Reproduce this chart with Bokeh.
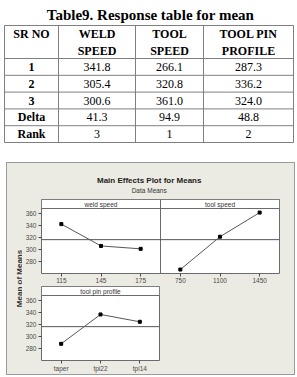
import numpy as np
from bokeh.plotting import figure
from bokeh.layouts import column, row, Spacer
from bokeh.models import Range1d, FactorRange, FixedTicker, Span
from bokeh.core.properties import value
from bokeh.embed import file_html
from bokeh.resources import INLINE

# ---------------- data ----------------
table_title = "Table9. Response table for mean"
header_line1 = ["SR NO", "WELD", "TOOL", "TOOL PIN"]
header_line2 = ["", "SPEED", "SPEED", "PROFILE"]
row_labels = ["1", "2", "3", "Delta", "Rank"]
weld_speed_means = [341.8, 305.4, 300.6]
tool_speed_means = [266.1, 320.8, 361.0]
pin_profile_means = [287.3, 336.2, 324.0]
delta_values = [41.3, 94.9, 48.8]
rank_values = [3, 1, 2]

weld_speed_levels = ["115", "145", "175"]
tool_speed_levels = ["750", "1100", "1450"]
pin_profile_levels = ["taper", "tpi22", "tpi14"]
panel_titles = ["weld speed", "tool speed", "tool pin profile"]
y_ticks = [280, 300, 320, 340, 360]
chart_title = "Main Effects Plot for Means"
chart_subtitle = "Data Means"
y_label = "Mean of Means"

# ---------------- styles ----------------
BG = "#ECEBE3"
FRAME_LINE = "#6b6b6b"
TICK_COL = "#4a4a4a"
SERIF = value("Liberation Serif")
SANS = value("Liberation Sans")

# ---------------- table ----------------
col_edges = [4, 58, 135, 203, 293]
row_edges = [25, 58, 74.8, 91.6, 108.4, 125.2, 142]

tbl = figure(width=297, height=160, x_range=Range1d(0, 297), y_range=Range1d(160, 0),
             min_border=0, toolbar_location=None, output_backend="svg",
             x_axis_type=None, y_axis_type=None)
tbl.outline_line_color = None
tbl.grid.visible = False
tbl.border_fill_color = "white"

tbl.text(x=[150], y=[14], text=[table_title], text_font=SERIF, text_font_style="bold",
         text_font_size="15px", text_align="center", text_baseline="middle", text_color="black")

hx0, hx1, hy = [], [], []
for r in row_edges:
    hx0.append(col_edges[0]); hx1.append(col_edges[-1]); hy.append(r)
tbl.segment(x0=hx0, y0=hy, x1=hx1, y1=hy, line_color="#808080", line_width=1)
tbl.segment(x0=col_edges, y0=[row_edges[0]] * len(col_edges), x1=col_edges,
            y1=[row_edges[-1]] * len(col_edges), line_color="#808080", line_width=1)

col_centers = [(a + b) / 2 for a, b in zip(col_edges[:-1], col_edges[1:])]
row_centers = [(a + b) / 2 for a, b in zip(row_edges[1:-1], row_edges[2:])]

# headers
tbl.text(x=col_centers, y=[33] * 4, text=header_line1, text_font=SERIF, text_font_style="bold",
         text_font_size="12px", text_align="center", text_baseline="middle", text_color="black")
tbl.text(x=col_centers, y=[50] * 4, text=header_line2, text_font=SERIF, text_font_style="bold",
         text_font_size="12px", text_align="center", text_baseline="middle", text_color="black")

# body
cells = []
for i in range(3):
    cells.append([f"{weld_speed_means[i]:.1f}", f"{tool_speed_means[i]:.1f}", f"{pin_profile_means[i]:.1f}"])
cells.append([f"{d:.1f}" for d in delta_values])
cells.append([str(r) for r in rank_values])

bx, by, bt = [], [], []
for ri, rc in enumerate(row_centers):
    for ci in range(3):
        bx.append(col_centers[ci + 1]); by.append(rc); bt.append(cells[ri][ci])
tbl.text(x=bx, y=by, text=bt, text_font=SERIF, text_font_size="12px",
         text_align="center", text_baseline="middle", text_color="black")
tbl.text(x=[col_centers[0]] * len(row_labels), y=row_centers, text=row_labels, text_font=SERIF,
         text_font_style="bold", text_font_size="12px", text_align="center",
         text_baseline="middle", text_color="black")

# ---------------- chart ----------------
y_lo, y_strip, y_hi = 259.5, 367.8, 382.8
grand_mean = float(np.mean(weld_speed_means + tool_speed_means + pin_profile_means))


def make_panel(levels_groups, titles, width, height, bottom_border):
    factors = [f for g in levels_groups for f in g]
    p = figure(width=width, height=height, x_range=FactorRange(factors=factors),
               y_range=Range1d(y_lo, y_hi), toolbar_location=None, output_backend="svg",
               min_border_left=17, min_border_right=10, min_border_top=0,
               min_border_bottom=bottom_border)
    p.border_fill_color = BG
    p.background_fill_color = "white"
    p.outline_line_color = FRAME_LINE
    p.outline_line_width = 1
    p.grid.visible = False

    p.yaxis.ticker = FixedTicker(ticks=y_ticks, minor_ticks=[])
    for ax in (p.xaxis[0], p.yaxis[0]):
        ax.axis_line_color = None
        ax.major_tick_in = 0
        ax.major_tick_out = 3
        ax.major_tick_line_color = TICK_COL
        ax.minor_tick_line_color = None
        ax.major_label_text_font = "Liberation Sans"
        ax.major_label_text_font_size = "6.5px"
        ax.major_label_text_color = TICK_COL
    p.yaxis.major_label_standoff = 2
    p.xaxis.major_label_standoff = 1

    n = len(factors)
    # strip header
    p.quad(left=[0], right=[n], bottom=[y_strip], top=[y_hi], fill_color="white",
           line_color=FRAME_LINE, line_width=1)
    # dividers between panels
    pos = 0
    for g in levels_groups[:-1]:
        pos += len(g)
        p.add_layout(Span(location=pos, dimension="height", line_color=FRAME_LINE, line_width=1))
    # grand mean reference line
    p.add_layout(Span(location=grand_mean, dimension="width", line_color="#555555", line_width=1))

    p.text(x=[g[len(g) // 2] for g in levels_groups], y=[(y_strip + y_hi) / 2] * len(levels_groups),
           text=titles, text_font=SANS, text_font_size="6.5px", text_color="#333333",
           text_align="center", text_baseline="middle")
    return p


top = make_panel([weld_speed_levels, tool_speed_levels], panel_titles[:2], 267, 87, 13)
top.line(x=weld_speed_levels, y=weld_speed_means, line_color="#444444", line_width=0.9)
top.line(x=tool_speed_levels, y=tool_speed_means, line_color="#444444", line_width=0.9)
top.scatter(x=weld_speed_levels, y=weld_speed_means, marker="square", size=3,
            fill_color="black", line_color="black")
top.scatter(x=tool_speed_levels, y=tool_speed_means, marker="square", size=3,
            fill_color="black", line_color="black")

bot = make_panel([pin_profile_levels], panel_titles[2:], 147, 88, 14)
bot.line(x=pin_profile_levels, y=pin_profile_means, line_color="#444444", line_width=0.9)
bot.scatter(x=pin_profile_levels, y=pin_profile_means, marker="square", size=3,
            fill_color="black", line_color="black")
bot_row = row(bot, Spacer(width=120, height=88, styles={"background-color": BG}), spacing=0)

# y label strip
lab = figure(width=15, height=175, x_range=Range1d(0, 15), y_range=Range1d(175, 0),
             min_border=0, toolbar_location=None, output_backend="svg",
             x_axis_type=None, y_axis_type=None)
lab.outline_line_color = None
lab.grid.visible = False
lab.border_fill_color = BG
lab.background_fill_color = BG
lab.text(x=[11.5], y=[79], text=[y_label], angle=np.pi / 2, text_font=SANS, text_font_style="bold",
         text_font_size="8px", text_color="#333333", text_align="center", text_baseline="middle")

# chart heading
head = figure(width=287, height=36, x_range=Range1d(0, 287), y_range=Range1d(36, 0),
              min_border=0, toolbar_location=None, output_backend="svg",
              x_axis_type=None, y_axis_type=None)
head.outline_line_color = None
head.grid.visible = False
head.border_fill_color = BG
head.background_fill_color = BG
head.text(x=[141.7], y=[17.3], text=[chart_title], text_font=SANS, text_font_style="bold",
          text_font_size="8px", text_color="#222222", text_align="center", text_baseline="middle")
head.text(x=[141.7], y=[27.3], text=[chart_subtitle], text_font=SANS, text_font_size="6.5px",
          text_color="#333333", text_align="center", text_baseline="middle")

chart_col = column(head, row(lab, column(top, bot_row, spacing=0), spacing=0), spacing=0,
                   styles={"border": "1px solid #9a9a9a", "background-color": BG},
                   margin=(2, 0, 0, 6))

layout = column(tbl, chart_col, spacing=0)

open("out.html", "w").write(file_html(layout, INLINE))
